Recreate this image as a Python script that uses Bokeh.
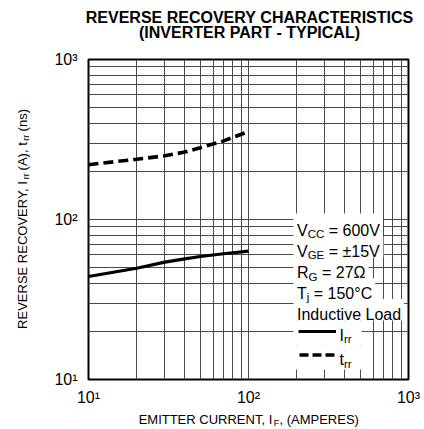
import math
from bokeh.plotting import figure
from bokeh.models import FixedTicker, Label, BoxAnnotation, Arrow
from bokeh.embed import file_html
from bokeh.resources import INLINE

# ---------------- data ----------------
current = [10, 20, 30, 40, 50, 70, 100]
irr = [44.0, 49.6, 54.1, 56.8, 58.7, 61.1, 63.4]
trr = [220, 238, 250, 264, 281, 310, 355]

major_ticks = [10, 100, 1000]
minor_ticks = [20, 30, 40, 50, 60, 70, 80, 90, 200, 300, 400, 500, 600, 700, 800, 900]
tick_labels = {10: "10¹", 100: "10²", 1000: "10³"}

FONT = "Liberation Sans"
NB = "\u00a0"
W, H = 424, 429
L, R, T, B = 88, 16, 59, 50

p = figure(width=W, height=H, x_axis_type="log", y_axis_type="log",
           x_range=(10, 1000), y_range=(10, 1000),
           output_backend="svg", toolbar_location=None,
           min_border_left=L, min_border_right=R, min_border_top=T, min_border_bottom=B)
p.background_fill_color = "white"
p.border_fill_color = "white"
p.outline_line_color = "black"
p.outline_line_width = 2

for ax in (p.xaxis, p.yaxis):
    ax.ticker = FixedTicker(ticks=major_ticks, minor_ticks=minor_ticks)
    ax.major_label_overrides = tick_labels
    ax.major_label_text_font = FONT
    ax.major_label_text_font_size = "16px"
    ax.major_label_text_color = "black"
    ax.axis_line_color = None
    ax.major_tick_line_color = None
    ax.minor_tick_line_color = None
    ax.major_tick_out = 0
    ax.major_tick_in = 0
    ax.minor_tick_out = 0
    ax.minor_tick_in = 0
p.xaxis.major_label_standoff = 9
p.yaxis.major_label_standoff = 11

for g in (p.xgrid, p.ygrid):
    g.grid_line_color = "#4a4a4a"
    g.grid_line_width = 1
    g.minor_grid_line_color = "#4a4a4a"
    g.minor_grid_line_width = 1

# ---------------- curves ----------------
p.line(current, irr, line_color="black", line_width=3.2)
p.line(current, trr, line_color="black", line_width=3.6, line_dash="10 5")

# ---------------- helpers (pixel -> data) ----------------
FW = 320.0
def dx(px):
    return 10 ** (1 + (px - L) / (FW / 2))
def dy(py):
    return 10 ** (1 + (T + FW - py) / (FW / 2))

CW = {' ': .278, NB: .278, ',': .278, '(': .333, ')': .333, '-': .333, '=': .584, '±': .584,
      '°': .4, 'Ω': .75,
      'A': .667, 'C': .722, 'D': .722, 'E': .667, 'F': .611, 'G': .778, 'H': .722,
      'I': .278, 'L': .556, 'M': .833, 'N': .722, 'O': .778, 'P': .667, 'R': .722,
      'S': .667, 'T': .611, 'U': .722, 'V': .667, 'Y': .667,
      'a': .556, 'c': .5, 'd': .556, 'e': .556, 'i': .222, 'j': .222, 'n': .556,
      'o': .556, 'r': .333, 's': .5, 't': .278, 'u': .556, 'v': .5}
def tw(s, size):
    return sum(CW.get(c, .556) for c in s) * size

def gap(width, size):
    n = max(1, int(round(width / (CW[NB] * size))))
    return NB * n

def lab(x, y, text, size, angle=0.0, bold=False, align="left"):
    return Label(x=x, y=y, text=text, text_font=FONT, text_font_size=f"{size}px",
                 text_font_style="bold" if bold else "normal",
                 text_baseline="alphabetic", text_align=align, angle=angle,
                 text_color="black")

def rich(segs, x0, base, size, sub_size, sub_drop):
    cur = x0
    for t, s in segs:
        fs = sub_size if s else size
        p.add_layout(lab(dx(cur), dy(base + (sub_drop if s else 0)), t.replace(" ", NB), fs))
        cur += tw(t, fs)

# ---------------- title (labels in the top panel) ----------------
TS = 16
p.add_layout(lab(dx(249), dy(16.5), "REVERSE RECOVERY CHARACTERISTICS".replace(" ", NB), TS,
                 bold=True, align="center"), "above")
p.add_layout(lab(dx(249), dy(32), "(INVERTER PART - TYPICAL)".replace(" ", NB), TS,
                 bold=True, align="center"), "above")

# ---------------- axis titles (labels in side panels so they are not clipped) ----------------
AS, ASS = 13, 9
x_pre, x_sub, x_post = "EMITTER CURRENT, I", "F", ", (AMPERES)"
x_gap = gap(tw(x_sub, ASS), AS)
x_main = x_pre + x_gap + x_post
x_start = 249 - tw(x_main, AS) / 2
p.add_layout(lab(dx(x_start), dy(419), x_main.replace(" ", NB), AS), "below")
p.add_layout(lab(dx(x_start + tw(x_pre, AS)), dy(422), x_sub, ASS), "left")

y_a, y_b, y_c = "REVERSE RECOVERY, I", " (A), t", " (ns)"
g1 = gap(tw("rr", ASS), AS)
y_main = y_a + g1 + y_b + g1 + y_c
y_start = 217.5 + tw(y_main, AS) / 2
y_sub = "rr" + gap(tw(y_b, AS) + (tw(g1, AS) - tw("rr", ASS)), ASS) + "rr"
p.add_layout(lab(dx(22), dy(y_start), y_main.replace(" ", NB), AS, angle=math.pi / 2), "left")
p.add_layout(lab(dx(25), dy(y_start - tw(y_a, AS)), y_sub, ASS, angle=math.pi / 2), "right")

# ---------------- condition box ----------------
LS, SS, SD = 16, 11.5, 4
lx = 296.5
rows = [
    ([("V", False), ("CC", True), (" = 600V", False)], 229.5),
    ([("V", False), ("GE", True), (" = ±15V", False)], 250.5),
    ([("R", False), ("G", True), (" = 27Ω", False)], 272),
    ([("T", False), ("j", True), (" = 150°C", False)], 292.5),
    ([("Inductive Load", False)], 314),
]
legend_rows = [
    ([("I", False), ("rr", True)], 334.5),
    ([("t", False), ("rr", True)], 359),
]
edges = [213, 236, 257, 278, 298.5, 320, 345, 369]
all_rows = [(s, b, 0) for s, b in rows] + [(s, b, 42.5) for s, b in legend_rows]
for i, (segs, base, off) in enumerate(all_rows):
    width = off + sum(tw(t, SS if s else LS) for t, s in segs)
    pad = 3 if off == 0 else 10
    p.add_layout(BoxAnnotation(left=dx(293), right=dx(lx + width + pad),
                               top=dy(edges[i]), bottom=dy(edges[i + 1]),
                               fill_color="white", fill_alpha=1.0, line_color=None))
for segs, base, off in all_rows:
    rich(segs, lx + off, base, LS, SS, SD)

p.add_layout(Arrow(x_start=dx(298), y_start=dy(331), x_end=dx(335.5), y_end=dy(331),
                   end=None, line_color="black", line_width=3.2))
p.add_layout(Arrow(x_start=dx(299), y_start=dy(354.5), x_end=dx(335.5), y_end=dy(354.5),
                   end=None, line_color="black", line_width=3.6, line_dash="9 4"))

open("out.html", "w").write(file_html(p, INLINE))
